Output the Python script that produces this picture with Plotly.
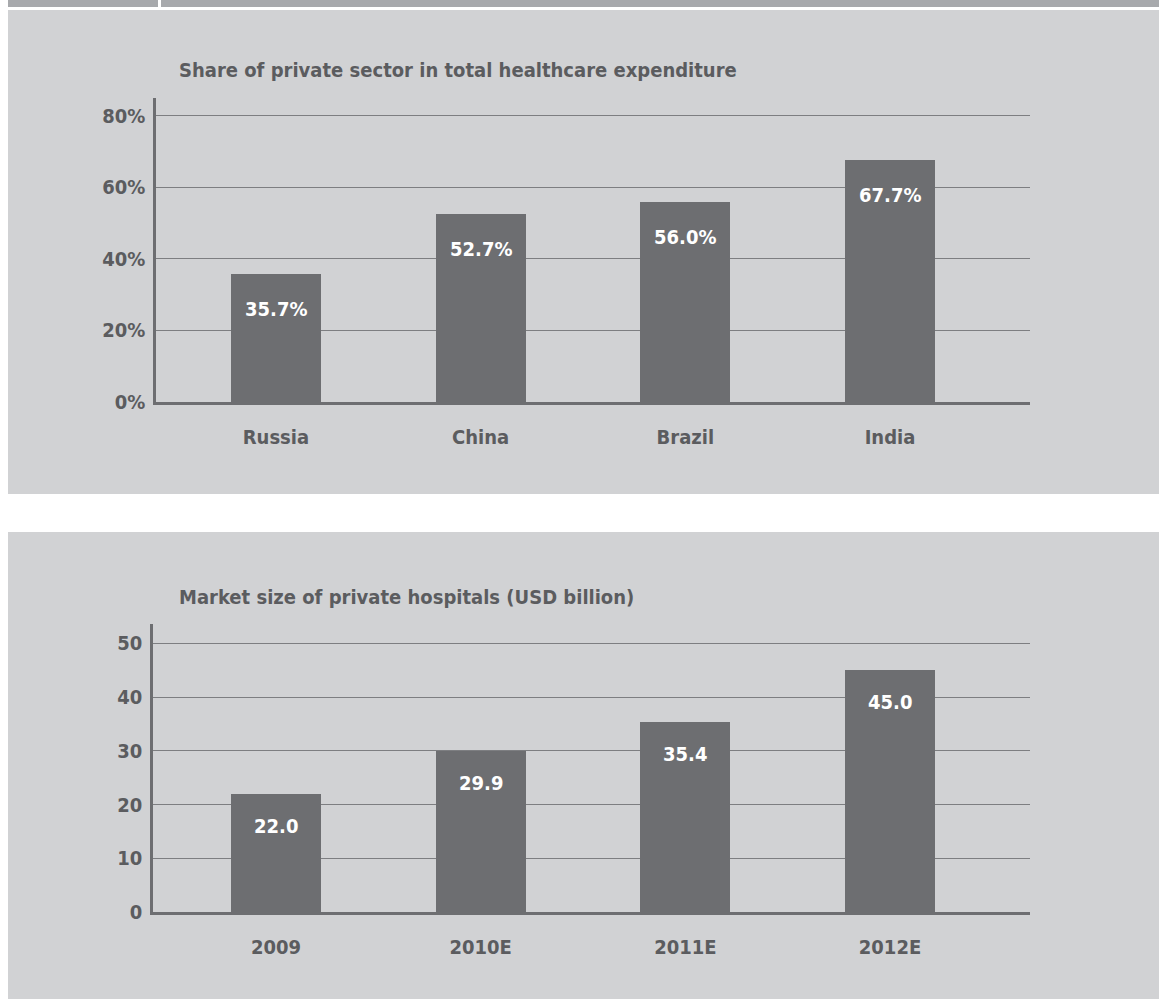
import plotly.graph_objects as go

W, H = 1159, 999
FIG_H = 1011  # page capture is slightly taller than the window; keep paper fractions on a 999 basis

# ---- data ----
countries = ["Russia", "China", "Brazil", "India"]
private_share = [35.7, 52.7, 56.0, 67.7]
share_labels = ["35.7%", "52.7%", "56.0%", "67.7%"]
share_ticks = [0, 20, 40, 60, 80]
share_tick_labels = ["0%", "20%", "40%", "60%", "80%"]

years = ["2009", "2010E", "2011E", "2012E"]
market_size = [22.0, 29.9, 35.4, 45.0]
market_labels = ["22.0", "29.9", "35.4", "45.0"]
market_ticks = [0, 10, 20, 30, 40, 50]
market_tick_labels = ["0", "10", "20", "30", "40", "50"]

title1 = "Share of private sector in total healthcare expenditure"
title2 = "Market size of private hospitals (USD billion)"

# ---- style ----
FONT = "DejaVu Sans Condensed, DejaVu Sans, sans-serif"
TXT = "#5b5c5f"
BAR = "#6d6e71"
GRID = "#7d7e81"
PANEL = "#d1d2d4"
STRIP = "#a7a9ac"


def px_x(p):
    return p / W


def px_y(p):
    return 1 - p / H


fig = go.Figure()
fig.add_trace(go.Bar(x=list(range(len(countries))), y=private_share, marker_color=BAR,
                     width=0.44, marker_line_width=0, xaxis="x", yaxis="y",
                     hoverinfo="skip"))
fig.add_trace(go.Bar(x=list(range(len(years))), y=market_size, marker_color=BAR,
                     width=0.44, marker_line_width=0, xaxis="x2", yaxis="y2",
                     hoverinfo="skip"))

annotations = []
for i, (v, t) in enumerate(zip(private_share, share_labels)):
    annotations.append(dict(x=i, y=v, xref="x", yref="y", text=t, showarrow=False,
                            yanchor="middle", yshift=-35,
                            font=dict(family=FONT, size=20, color="white", weight="bold")))
for i, (v, t) in enumerate(zip(market_size, market_labels)):
    annotations.append(dict(x=i, y=v, xref="x2", yref="y2", text=t, showarrow=False,
                            yanchor="middle", yshift=-32,
                            font=dict(family=FONT, size=20, color="white", weight="bold")))
annotations.append(dict(x=px_x(177), y=px_y(70), xref="paper", yref="paper", text=title1,
                        showarrow=False, xanchor="left", yanchor="middle",
                        font=dict(family=FONT, size=20, color=TXT, weight="bold")))
annotations.append(dict(x=px_x(177), y=px_y(597), xref="paper", yref="paper", text=title2,
                        showarrow=False, xanchor="left", yanchor="middle",
                        font=dict(family=FONT, size=20, color=TXT, weight="bold")))

shapes = [
    dict(type="rect", xref="paper", yref="paper", x0=px_x(8), x1=px_x(158), y0=px_y(0), y1=px_y(7),
         fillcolor=STRIP, line_width=0, layer="below"),
    dict(type="rect", xref="paper", yref="paper", x0=px_x(161), x1=1, y0=px_y(0), y1=px_y(7),
         fillcolor=STRIP, line_width=0, layer="below"),
    dict(type="rect", xref="paper", yref="paper", x0=px_x(8), x1=1, y0=px_y(10), y1=px_y(494),
         fillcolor=PANEL, line_width=0, layer="below"),
    dict(type="rect", xref="paper", yref="paper", x0=px_x(8), x1=1, y0=px_y(532), y1=0,
         fillcolor=PANEL, line_width=0, layer="below"),
]

tickfont = dict(family=FONT, size=20, color=TXT, weight="bold")

common_x = dict(showgrid=False, showline=True, linecolor=BAR, linewidth=2.5,
                ticks="outside", ticklen=0, tickcolor="rgba(0,0,0,0)", tickfont=tickfont,
                ticklabelstandoff=15, zeroline=False, fixedrange=True)
common_y = dict(showgrid=True, gridcolor=GRID, gridwidth=1.3, showline=True, linecolor=BAR,
                linewidth=2.5, ticks="outside", ticklen=0, tickcolor="rgba(0,0,0,0)",
                tickfont=tickfont, ticklabelstandoff=4, zeroline=False, fixedrange=True)

fig.update_layout(
    width=W, height=FIG_H,
    margin=dict(l=0, r=0, t=0, b=0),
    paper_bgcolor="white",
    plot_bgcolor="rgba(0,0,0,0)",
    showlegend=False,
    bargap=0,
    xaxis=dict(common_x, domain=[px_x(156), px_x(1030)], range=[-0.586, 3.684],
               tickvals=list(range(len(countries))), ticktext=countries, anchor="y"),
    yaxis=dict(common_y, domain=[px_y(402), px_y(98)], range=[0, 85],
               tickvals=share_ticks, ticktext=share_tick_labels, anchor="x"),
    xaxis2=dict(common_x, domain=[px_x(153), px_x(1030)], range=[-0.601, 3.684],
                tickvals=list(range(len(years))), ticktext=years, anchor="y2"),
    yaxis2=dict(common_y, domain=[px_y(912), px_y(624)], range=[0, 53.6],
                tickvals=market_ticks, ticktext=market_tick_labels, anchor="x2"),
    annotations=annotations,
    shapes=shapes,
)

post = (
    "document.documentElement.style.margin='0';"
    "document.documentElement.style.overflow='hidden';"
    "document.body.style.margin='0';"
    "document.body.style.overflow='hidden';"
    "var d=document.querySelector('.plotly-graph-div');"
    "d.style.position='fixed';d.style.top='0px';d.style.left='0px';"
)
fig.write_html("out.html", config={"displayModeBar": False}, post_script=post)
